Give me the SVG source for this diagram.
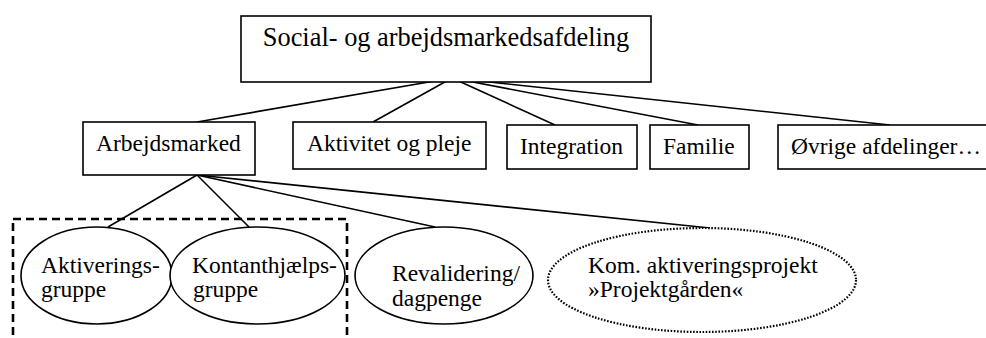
<svg xmlns="http://www.w3.org/2000/svg" width="986" height="338" viewBox="0 0 986 338">
<style>
.box{fill:#fff;stroke:#000;stroke-width:1.6}
.ell{fill:#fff;stroke:#000;stroke-width:1.6}
.dot{fill:#fff;stroke:#000;stroke-width:2.2;stroke-dasharray:1.6 1.6}
.dash{fill:none;stroke:#000;stroke-width:2.6;stroke-dasharray:8 5}
.ln{stroke:#000;stroke-width:1.6;fill:none}
text{font-family:"Liberation Serif","Times New Roman",serif;font-size:23.5px;fill:#000}
.big{font-size:26.4px}
</style>
<rect width="986" height="338" fill="#fff"/>
<g id="connectors">
<line class="ln" x1="452" y1="78" x2="197" y2="122"/>
<line class="ln" x1="452" y1="78" x2="373" y2="122"/>
<line class="ln" x1="452" y1="78" x2="555" y2="125"/>
<line class="ln" x1="452" y1="78" x2="698" y2="125"/>
<line class="ln" x1="452" y1="78" x2="890" y2="125"/>
<line class="ln" x1="197" y1="175" x2="108" y2="227"/>
<line class="ln" x1="197" y1="175" x2="249" y2="227"/>
<line class="ln" x1="197" y1="175" x2="435" y2="227"/>
<line class="ln" x1="197" y1="175" x2="710" y2="228"/>
</g>
<g id="group-frame">
<rect class="dash" x="13" y="219" width="334" height="140"/>
</g>
<g id="top">
<rect class="box" x="241" y="16" width="410" height="66"/>
<text class="big" x="446" y="46" text-anchor="middle">Social- og arbejdsmarkedsafdeling</text>
</g>
<g id="arbejdsmarked">
<rect class="box" x="83" y="122" width="172" height="53"/>
<text x="96" y="151">Arbejdsmarked</text>
</g>
<g id="aktivitet">
<rect class="box" x="293" y="122" width="193" height="47"/>
<text x="307" y="151">Aktivitet og pleje</text>
</g>
<g id="integration">
<rect class="box" x="507" y="125" width="130" height="44"/>
<text x="520" y="154">Integration</text>
</g>
<g id="familie">
<rect class="box" x="650" y="125" width="99" height="44"/>
<text x="663" y="154">Familie</text>
</g>
<g id="ovrige">
<rect class="box" x="778" y="125" width="214" height="44"/>
<text x="791" y="154">Øvrige afdelinger…</text>
</g>
<g id="aktiveringsgruppe">
<ellipse class="ell" cx="96.5" cy="275.5" rx="75.5" ry="48.5"/>
<text x="41" y="273">Aktiverings-</text>
<text x="41" y="297">gruppe</text>
</g>
<g id="kontanthjaelpsgruppe">
<ellipse class="ell" cx="257.5" cy="275.5" rx="87.5" ry="48.5"/>
<text x="192" y="273">Kontanthjælps-</text>
<text x="193" y="297">gruppe</text>
</g>
<g id="revalidering">
<ellipse class="ell" cx="444" cy="275.5" rx="89" ry="48.5"/>
<text x="392" y="281">Revalidering/</text>
<text x="392" y="306">dagpenge</text>
</g>
<g id="projektgaarden">
<ellipse class="dot" cx="702" cy="280" rx="154" ry="52"/>
<text x="588" y="273">Kom. aktiveringsprojekt</text>
<text x="588" y="297">»Projektgården«</text>
</g>
</svg>
